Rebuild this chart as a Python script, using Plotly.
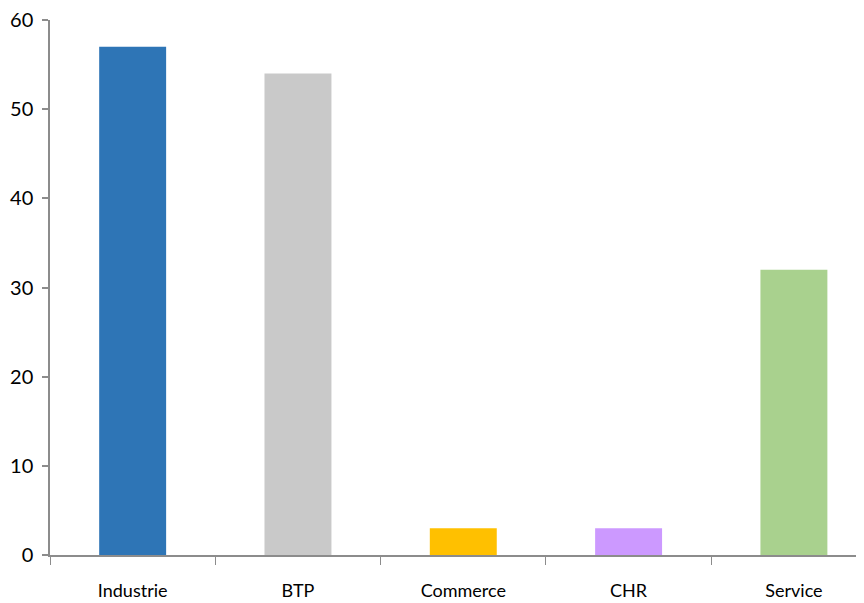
import plotly.graph_objects as go

categories = ["Industrie", "BTP", "Commerce", "CHR", "Service"]
values = [57, 54, 3, 3, 32]
colors = ["#2E75B6", "#C9C9C9", "#FFC000", "#CC99FF", "#A9D18E"]
y_ticks = [0, 10, 20, 30, 40, 50, 60]

font_family = "Lato, Liberation Sans, sans-serif"

fig = go.Figure(go.Bar(x=categories, y=values, marker=dict(color=colors, line=dict(width=0))))

fig.update_layout(
    width=856, height=595,
    margin=dict(l=42, r=0, t=12, b=48),
    paper_bgcolor="white", plot_bgcolor="white",
    bargap=0.595,
    showlegend=False,
    font=dict(family=font_family, size=18, color="#000000"),
)
fig.update_xaxes(
    range=[-0.5, 4.424], automargin=False, ticklabeloverflow="allow",
    showline=True, linecolor="#8C8C8C", linewidth=1.5,
    ticks="outside", tickson="boundaries", ticklen=8, tickcolor="#8C8C8C", tickwidth=1,
    ticklabelstandoff=19,
    tickfont=dict(size=18),
    showgrid=False, zeroline=False,
)
fig.update_yaxes(
    range=[0, 60], tickvals=y_ticks, automargin=False, ticklabeloverflow="allow",
    showline=True, linecolor="#8C8C8C", linewidth=1.5,
    ticks="outside", ticklen=6, tickcolor="#8C8C8C", tickwidth=1.5,
    ticklabelstandoff=5,
    tickfont=dict(size=20),
    showgrid=False, zeroline=False,
)

fig.write_html("out.html")
